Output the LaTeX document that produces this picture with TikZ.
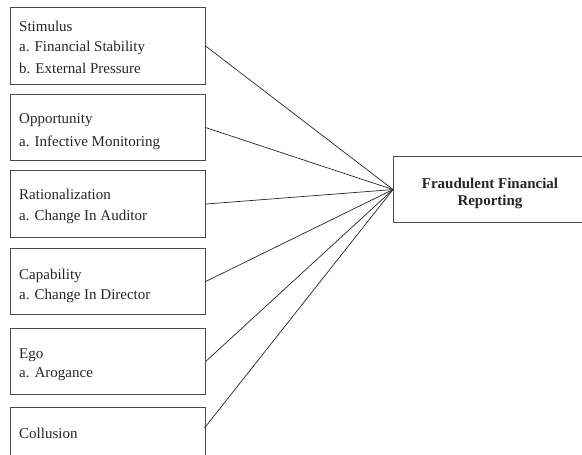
\documentclass[tikz,border=0pt]{standalone}
\usepackage{fontspec}
\setmainfont{Liberation Serif}
\begin{document}
\begin{tikzpicture}[x=1pt,y=-1pt,
  box/.style={draw=black!70, line width=1.1pt, rectangle, inner sep=0pt, anchor=north west, minimum width=194.5pt},
  lbl/.style={anchor=base west, inner sep=0pt, font=\fontsize{15}{20}\selectfont, text=black!85},
  ttl/.style={anchor=base, inner sep=0pt, font=\fontsize{15}{17}\selectfont\bfseries, text=black!85},
  conn/.style={draw=black!85, line width=0.7pt}]
\useasboundingbox (0,0) rectangle (582,455);
% left boxes
\node[box, minimum height=77pt] (s1) at (10,7) {};
\node[box, minimum height=66pt] (s2) at (10,94) {};
\node[box, minimum height=67pt] (s3) at (10,170) {};
\node[box, minimum height=66pt] (s4) at (10,248) {};
\node[box, minimum height=66pt] (s5) at (10,328) {};
\node[box, minimum height=80pt] (s6) at (10,407) {};
\coordinate (c6) at (204.5,428);
% right box
\node[box, minimum width=220pt, minimum height=66pt] (fr) at (393,156) {};
% texts
\node[lbl] (t1a) at (19,31) {Stimulus};
\node[lbl] (t1b) at (19,52) {a. Financial Stability};
\node[lbl] (t1c) at (19,73) {b. External Pressure};
\node[lbl] (t2a) at (19,123) {Opportunity};
\node[lbl] (t2b) at (19,146) {a. Infective Monitoring};
\node[lbl] (t3a) at (19,199) {Rationalization};
\node[lbl] (t3b) at (19,220) {a. Change In Auditor};
\node[lbl] (t4a) at (19,279) {Capability};
\node[lbl] (t4b) at (19,299) {a. Change In Director};
\node[lbl] (t5a) at (19,358) {Ego};
\node[lbl] (t5b) at (19,377) {a. Arogance};
\node[lbl] (t6a) at (19,438) {Collusion};
\node[ttl] (ta) at (490,188) {Fraudulent Financial};
\node[ttl] (tb) at (490,205) {Reporting};
% connectors
\draw[conn] (s1.east) -- (fr.west);
\draw[conn] (s2.east) -- (fr.west);
\draw[conn] (s3.east) -- (fr.west);
\draw[conn] (s4.east) -- (fr.west);
\draw[conn] (s5.east) -- (fr.west);
\draw[conn] (c6) -- (fr.west);
\end{tikzpicture}
\end{document}
